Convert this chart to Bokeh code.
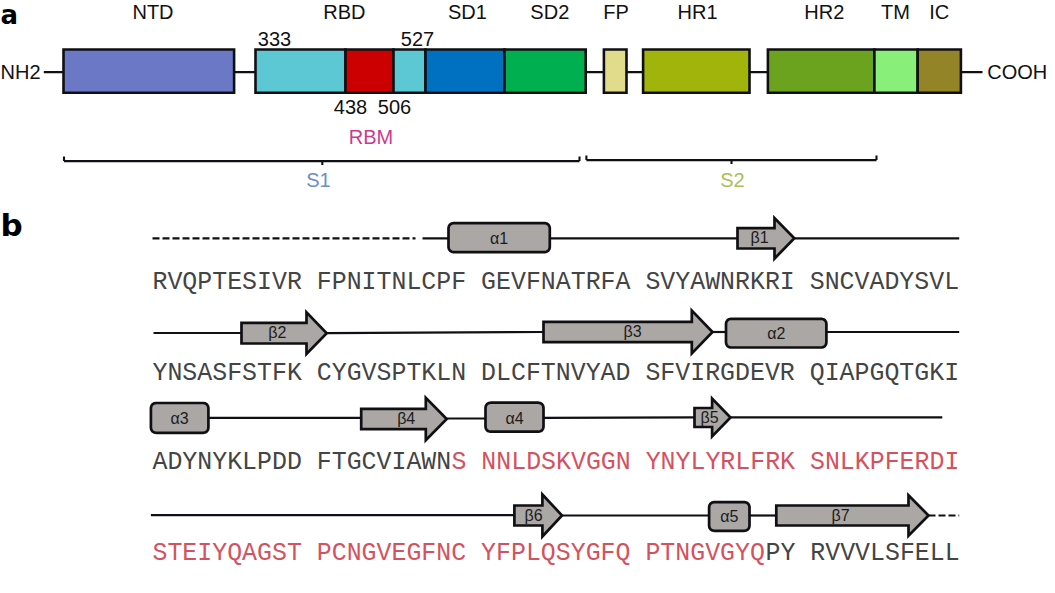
from bokeh.plotting import figure
from bokeh.embed import file_html
from bokeh.resources import INLINE
from bokeh.core.properties import value

# ---- panel a: spike domains (start / end along the schematic axis)
domain_names = ["NTD", "RBD", "RBM", "RBD2", "SD1", "SD2", "FP", "HR1", "HR2", "TM", "IC"]
domain_start = [63, 255, 345, 393, 425, 504, 603.4, 642.6, 767.4, 873.9, 917.2]
domain_end = [233.6, 345, 393, 425, 504, 585.2, 626, 749, 873.9, 917.2, 960.4]
domain_colors = ["#6a78c6", "#5cc8d4", "#cc0000", "#5cc8d4", "#0070c0", "#00b050",
                 "#e0dc8c", "#a0b40c", "#6ba31f", "#88f078", "#948428"]

top_labels = ["NTD", "RBD", "SD1", "SD2", "FP", "HR1", "HR2", "TM", "IC"]
top_label_x = [152.5, 343.8, 466.9, 549.3, 615.6, 697, 823.8, 895, 938.8]

residue_labels = ["333", "527", "438", "506"]
residue_x = [274, 417, 350, 394]
residue_y = [38.2, 38.2, 106, 106]

linker_x0 = [43.3, 233.6, 585.2, 626, 749, 960.4]
linker_x1 = [63, 255, 603.4, 642.6, 767.4, 982]

# subunit brackets: start, end, centre tick
bracket_names = ["S1", "S2"]
bracket_start = [63.5, 585.9]
bracket_end = [579, 876]
bracket_mid = [321.8, 731]
bracket_y = [160.6, 159.6]
bracket_label_x = [318, 732]

# ---- panel b: sequence rows
seq_black_1 = ["RVQPTESIVR FPNITNLCPF GEVFNATRFA SVYAWNRKRI SNCVADYSVL",
               "YNSASFSTFK CYGVSPTKLN DLCFTNVYAD SFVIRGDEVR QIAPGQTGKI",
               "ADYNYKLPDD FTGCVIAWN", ""]
seq_red = ["", "", "S NNLDSKVGGN YNYLYRLFRK SNLKPFERDI", "STEIYQAGST PCNGVEGFNC YFPLQSYGFQ PTNGVGYQ"]
seq_black_2 = ["", "", "", "PY RVVVLSFELL"]
seq_row_y = [281, 372, 461.5, 552.5]

# helices
helix_names = ["α1", "α2", "α3", "α4", "α5"]
helix_left = [448, 725.5, 150.4, 485, 708.6]
helix_right = [549.3, 825.9, 207.9, 543, 749]
helix_top = [222.6, 318.3, 402.5, 402.2, 501.6]
helix_bottom = [251.6, 347, 432.3, 431.2, 530.3]
helix_label_y = [238, 332.5, 418, 418, 515.5]

# strands
strand_names = ["β1", "β2", "β3", "β4", "β5", "β6", "β7"]
strand_tail = [737, 241, 543, 360.7, 694, 513.9, 775.8]
strand_base = [774, 306, 691.3, 425.3, 711.6, 541.9, 908]
strand_tip = [793.8, 326.2, 712, 446.2, 730, 561.5, 928]
strand_center = [237.8, 332.7, 331.5, 418.5, 417, 515, 515]
strand_shaft_half = [10.2, 10.3, 10.2, 10.2, 9.5, 10, 10]
strand_head_half = [20.3, 20.8, 21.4, 21.1, 18.9, 21, 20.3]
strand_label_x = [759, 276.9, 632, 405.7, 709, 533, 840]

# connecting coil segments (x0, y0, x1, y1)
coil_x0 = [422, 549.3, 793.8, 153, 326.2, 712, 825.9, 207.9, 446.2, 543, 730, 150.4, 561.5, 749]
coil_y0 = [237.8, 237.8, 237.8, 332.5, 332.7, 331.5, 331.5, 417.4, 418, 417.4, 416.8, 514.7, 515, 515]
coil_x1 = [448, 737, 958.7, 241, 543, 725.5, 958.7, 360.7, 485, 694, 941.8, 513.9, 708.6, 775.8]
coil_y1 = [237.8, 237.8, 237.8, 332.5, 331.5, 331.5, 331.5, 417.4, 418, 416.8, 416.8, 514.7, 515, 515]

dash_x0 = [152, 928]
dash_x1 = [415, 958.7]
dash_y = [237.8, 515]

# ---- styling
INK = "#101014"
SANS = value("Liberation Sans")
LABEL_SIZE = "20px"
CHAR = 14.95
SEQ_X = 152
RADIUS = 5

p = figure(width=1055, height=593, x_range=(0, 1055), y_range=(593, 0),
           x_axis_location=None, y_axis_location=None, toolbar_location=None,
           output_backend="svg", min_border=0, background_fill_color="white",
           outline_line_color=None)
p.grid.visible = False

# linkers under the domains
p.segment(x0=linker_x0, x1=linker_x1, y0=71.7, y1=71.7, line_color=INK, line_width=2.3)

# domains
p.quad(left=domain_start, right=domain_end, top=49, bottom=92.3,
       fill_color=domain_colors, line_color=INK, line_width=2.6, line_join="miter")

# top labels
p.text(x=top_label_x, y=11.2, text=top_labels, text_align="center", text_baseline="middle",
       text_font=SANS, text_font_size=LABEL_SIZE, text_color="#111111")
p.text(x=residue_x, y=residue_y, text=residue_labels, text_align="center", text_baseline="middle",
       text_font=SANS, text_font_size=LABEL_SIZE, text_color="#111111")
p.text(x=[0], y=[71.7], text=["NH2"], text_align="left", text_baseline="middle",
       text_font=SANS, text_font_size=LABEL_SIZE, text_color="#111111")
p.text(x=[986.8], y=[71.7], text=["COOH"], text_align="left", text_baseline="middle",
       text_font=SANS, text_font_size=LABEL_SIZE, text_color="#111111")
p.text(x=[370.5], y=[136.6], text=["RBM"], text_align="center", text_baseline="middle",
       text_font=SANS, text_font_size=LABEL_SIZE, text_color="#cb3a92")

# brackets
p.segment(x0=bracket_start, x1=bracket_end, y0=bracket_y, y1=bracket_y, line_color=INK, line_width=2.1)
p.segment(x0=bracket_start, x1=bracket_start, y0=bracket_y, y1=[y - 4.5 for y in bracket_y],
          line_color=INK, line_width=2.1)
p.segment(x0=bracket_end, x1=bracket_end, y0=bracket_y, y1=[y - 4.5 for y in bracket_y],
          line_color=INK, line_width=2.1)
p.segment(x0=bracket_mid, x1=bracket_mid, y0=bracket_y, y1=[y + 4 for y in bracket_y],
          line_color=INK, line_width=2.1)
p.text(x=bracket_label_x, y=179, text=bracket_names, text_align="center", text_baseline="middle",
       text_font=SANS, text_font_size=LABEL_SIZE, text_color=["#6a90c2", "#a8c05a"])

# panel letters
p.text(x=[0], y=[14], text=["a"], text_align="left", text_baseline="middle",
       text_font=value("DejaVu Sans"), text_font_style="bold", text_font_size="26px", text_color="#000000")
p.text(x=[0], y=[224], text=["b"], text_align="left", text_baseline="middle",
       text_font=value("DejaVu Sans"), text_font_style="bold", text_font_size="31px", text_color="#000000")

# coils
p.segment(x0=coil_x0, y0=coil_y0, x1=coil_x1, y1=coil_y1, line_color=INK, line_width=2.2)
p.segment(x0=dash_x0, y0=dash_y, x1=dash_x1, y1=dash_y, line_color=INK, line_width=2.2,
          line_dash="7 3")


def rounded_outline(left, right, top, bottom, r):
    # corner points of a rounded box, following each corner with a short chamfer run
    k = [(1.0, 0.0), (0.62, 0.08), (0.29, 0.29), (0.08, 0.62), (0.0, 1.0)]
    xs, ys = [], []
    for a, b in k:
        xs.append(left + a * r)
        ys.append(top + b * r)
    for a, b in reversed(k):
        xs.append(left + a * r)
        ys.append(bottom - b * r)
    for a, b in k:
        xs.append(right - a * r)
        ys.append(bottom - b * r)
    for a, b in reversed(k):
        xs.append(right - a * r)
        ys.append(top + b * r)
    return xs, ys


# helices
helix_xs, helix_ys = [], []
for l, r, t, b in zip(helix_left, helix_right, helix_top, helix_bottom):
    hx, hy = rounded_outline(l, r, t, b, RADIUS)
    helix_xs.append(hx)
    helix_ys.append(hy)
p.patches(helix_xs, helix_ys, fill_color="#aaa7a5", line_color=INK, line_width=2.7)
p.text(x=[(a + b) / 2 for a, b in zip(helix_left, helix_right)], y=helix_label_y, text=helix_names,
       text_align="center", text_baseline="middle", text_font=SANS, text_font_size="16px",
       text_color="#1c1c1c")

# strands
arrow_xs, arrow_ys = [], []
for tail, base, tip, c, s, h in zip(strand_tail, strand_base, strand_tip, strand_center,
                                    strand_shaft_half, strand_head_half):
    arrow_xs.append([tail, base, base, tip, base, base, tail])
    arrow_ys.append([c - s, c - s, c - h, c, c + h, c + s, c + s])
p.patches(arrow_xs, arrow_ys, fill_color="#aaa7a5", line_color=INK, line_width=2.7, line_join="miter")
p.text(x=strand_label_x, y=[c - 0.5 for c in strand_center], text=strand_names,
       text_align="center", text_baseline="middle", text_font=SANS, text_font_size="16px",
       text_color="#1c1c1c")

# sequence text, three runs per row
seq_style = dict(text_align="left", text_baseline="middle", text_font=value("Liberation Mono"),
                 text_font_size="24.9px")
for run1, run2, run3, y in zip(seq_black_1, seq_red, seq_black_2, seq_row_y):
    x = SEQ_X
    for run, color in ((run1, "#444444"), (run2, "#d4525e"), (run3, "#444444")):
        if run:
            p.text(x=[x], y=[y], text=[run], text_color=color, **seq_style)
            x += len(run) * CHAR

open("out.html", "w").write(file_html(p, INLINE))
